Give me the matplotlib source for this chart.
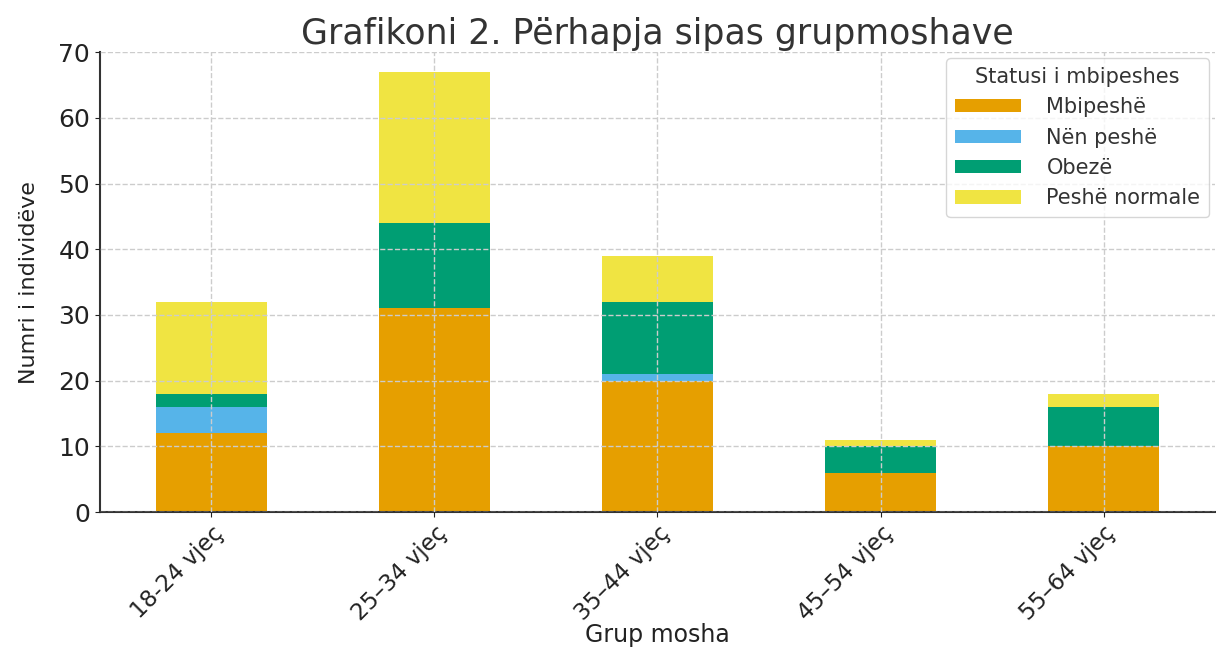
import matplotlib
matplotlib.use("Agg")
import matplotlib.pyplot as plt
import numpy as np

categories = ["18-24 vjeç", "25–34 vjeç", "35–44 vjeç", "45–54 vjeç", "55–64 vjeç"]
series_names = ["Mbipeshë", "Nën peshë", "Obezë", "Peshë normale"]
mbipeshe = [12, 31, 20, 6, 10]
nen_peshe = [4, 0, 1, 0, 0]
obeze = [2, 13, 11, 4, 6]
peshe_normale = [14, 23, 7, 1, 2]
colors = ["#E69F00", "#56B4E9", "#009E73", "#F0E442"]

fig = plt.figure(figsize=(12.16, 6.52), dpi=100)
ax = fig.add_axes([0.0822, 0.2147, 0.917, 0.7053])

x = np.arange(len(categories))
bottom = np.zeros(len(categories))
for name, vals, c in zip(series_names, [mbipeshe, nen_peshe, obeze, peshe_normale], colors):
    ax.bar(x, vals, width=0.5, bottom=bottom, color=c, label=name)
    bottom += np.array(vals)

ax.set_xlim(-0.5, 4.5)
ax.set_ylim(0, 70)
ax.set_xticks(x)
ax.set_xticklabels(categories, rotation=45, ha="right", rotation_mode="anchor", fontsize=16.5, color="#222222")
ax.tick_params(axis="y", labelsize=18, colors="#222222")
ax.tick_params(axis="x", colors="#222222")
ax.grid(True, linestyle="--", color="#cccccc", linewidth=1)
ax.set_axisbelow(False)
for s in ["top", "right"]:
    ax.spines[s].set_visible(False)
for s in ["left", "bottom"]:
    ax.spines[s].set_color("#333333")
    ax.spines[s].set_linewidth(1.5)

ax.set_title("Grafikoni 2. Përhapja sipas grupmoshave", fontsize=25, color="#333333", pad=6)
ax.set_xlabel("Grup mosha", fontsize=17, color="#222222", va="center")
ax.xaxis.set_label_coords(0.5, -0.268)
ax.set_ylabel("Numri i individëve", fontsize=16, color="#222222", labelpad=14)

leg = ax.legend(title="Statusi i mbipeshes", loc="upper right", fontsize=15, title_fontsize=15,
                frameon=True, edgecolor="#cccccc", handlelength=3.2, handleheight=0.6,
                handletextpad=1.2, borderaxespad=0.3)
for t in leg.get_texts():
    t.set_color("#333333")
leg.get_title().set_color("#333333")

fig.savefig("out.png", dpi=100)
